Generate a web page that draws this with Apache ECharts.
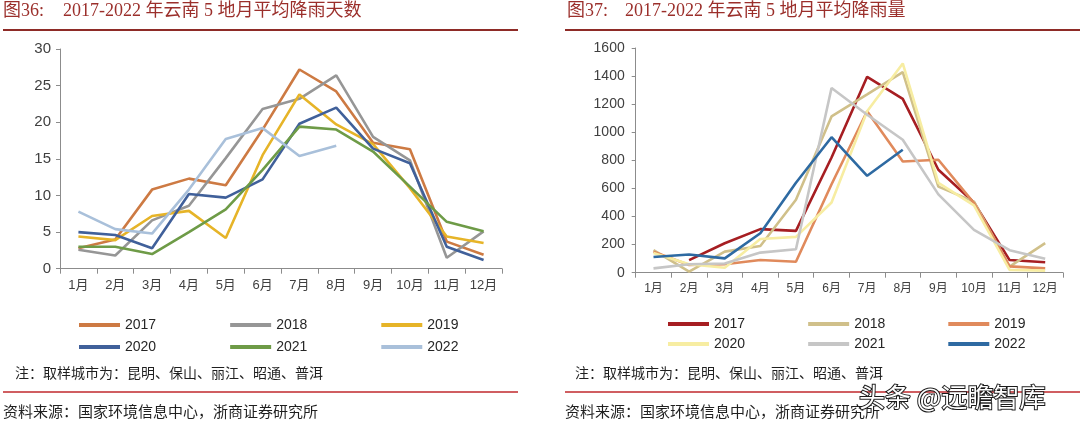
<!DOCTYPE html>
<html>
<head>
<meta charset="utf-8">
<script src="https://cdn.jsdelivr.net/npm/echarts@6/dist/echarts.min.js"></script>
<style>
html,body{margin:0;padding:0;background:#fff;}
#c1{position:absolute;left:0;top:0;width:540px;height:424px;}
#c2{position:absolute;left:540px;top:0;width:540px;height:424px;}
</style>
</head>
<body>
<div id="c1"></div>
<div id="c2"></div>
<script>
// ---- data ----
const months = ['1月','2月','3月','4月','5月','6月','7月','8月','9月','10月','11月','12月'];
const years = ['2017','2018','2019','2020','2021','2022'];

// Figure 36: average rainy days
const days2017 = [2.8, 4.0, 10.8, 12.3, 11.4, 19.0, 27.2, 24.2, 17.2, 16.3, 3.7, 1.9];
const days2018 = [2.6, 1.8, 6.6, 8.6, 15.1, 21.8, 23.2, 26.4, 18.0, 14.8, 1.5, 5.1];
const days2019 = [4.4, 3.9, 7.2, 7.9, 4.2, 15.5, 23.8, 19.7, 17.0, 11.0, 4.4, 3.5];
const days2020 = [5.0, 4.6, 2.8, 10.2, 9.7, 12.2, 19.8, 22.0, 16.4, 14.4, 3.0, 1.2];
const days2021 = [3.0, 3.0, 2.0, 5.0, 8.1, 13.5, 19.4, 19.0, 16.0, 11.2, 6.4, 5.1];
const days2022 = [7.8, 5.4, 4.8, 10.8, 17.7, 19.2, 15.4, 16.8, null, null, null, null];

// Figure 37: average rainfall
const rain2017 = [null, 90, 210, 310, 298, 820, 1395, 1238, 733, 500, 90, 74];
const rain2018 = [160, 8, 150, 190, 520, 1113, 1270, 1428, 613, 506, 43, 210];
const rain2019 = [150, 55, 60, 90, 78, 630, 1150, 792, 804, 495, 45, 31];
const rain2020 = [140, 60, 35, 240, 255, 500, 1150, 1490, 640, 480, 20, 15];
const rain2021 = [31, 60, 65, 143, 167, 1315, 1125, 947, 558, 305, 160, 100];
const rain2022 = [112, 130, 102, 281, 640, 965, 690, 875, null, null, null, null];

const daysTicks = {min: 0, max: 30, interval: 5};
const rainTicks = {min: 0, max: 1600, interval: 200};

const title36a = '图36:';
const title36b = '2017-2022 年云南 5 地月平均降雨天数';
const title37a = '图37:';
const title37b = '2017-2022 年云南 5 地月平均降雨量';
const noteText = '注：取样城市为：昆明、保山、丽江、昭通、普洱';
const sourceText = '资料来源：国家环境信息中心，浙商证券研究所';
const watermark = '头条 @远瞻智库';

// ---- styles ----
const colorsL = ['#CD7A43', '#969696', '#E6B428', '#40609A', '#6E9B47', '#A9C0DA'];
const colorsR = ['#A61E22', '#D0C08A', '#E08A5C', '#F7EDA2', '#C6C6C6', '#2E6AA2'];
const latin = "'Liberation Sans','Noto Sans CJK SC',sans-serif";
const serif = "'Liberation Serif','Noto Sans CJK SC',serif";
const cjk = "'Noto Sans CJK SC',sans-serif";

function buildOption(cfg) {
  const series = cfg.data.map((d, i) => ({
    name: years[i], type: 'line', data: d, symbol: 'none', connectNulls: false,
    lineStyle: {width: 2.6, color: cfg.colors[i]}, itemStyle: {color: cfg.colors[i]}
  }));
  const legendBase = {
    icon: 'rect', itemWidth: 41, itemHeight: 4, itemGap: cfg.legendGap,
    textStyle: {fontSize: 14, color: '#262626', fontFamily: latin}, orient: 'horizontal',
    selectedMode: false
  };
  return {
    animation: false,
    backgroundColor: '#fff',
    grid: cfg.grid,
    legend: [
      Object.assign({}, legendBase, {left: cfg.legendLeft, top: cfg.legendTop[0], data: years.slice(0, 3)}),
      Object.assign({}, legendBase, {left: cfg.legendLeft, top: cfg.legendTop[1], data: years.slice(3)})
    ],
    xAxis: {
      type: 'category', data: months, boundaryGap: true,
      axisLine: {lineStyle: {color: '#8c8c8c', width: 1}},
      axisTick: {show: true, length: 5, lineStyle: {color: '#8c8c8c'}},
      axisLabel: {fontSize: cfg.xFont, color: '#404040', fontFamily: latin, margin: 10, interval: 0, hideOverlap: false}
    },
    yAxis: {
      type: 'value', min: cfg.ticks.min, max: cfg.ticks.max, interval: cfg.ticks.interval,
      axisLine: {show: true, lineStyle: {color: '#8c8c8c', width: 1}},
      axisTick: {show: true, length: 4, lineStyle: {color: '#8c8c8c'}},
      splitLine: {show: false},
      axisLabel: {fontSize: cfg.yFont, color: '#404040', fontFamily: latin, margin: cfg.yMargin,
        formatter: function (v) { return String(v); }}
    },
    series: series,
    graphic: cfg.graphic
  };
}

function headerGraphics(xa, xb, ta, tb, ruleX1, ruleX2, noteX) {
  return [
    {type: 'text', left: xa, top: 2, style: {text: ta, font: '18px ' + serif, fill: '#9B2F2B'}},
    {type: 'text', left: xb, top: 2, style: {text: tb, font: '18px ' + serif, fill: '#9B2F2B'}},
    {type: 'line', shape: {x1: ruleX1, y1: 30, x2: ruleX2, y2: 30}, style: {stroke: '#8E2B27', lineWidth: 2}},
    {type: 'text', left: noteX, top: 366, style: {text: noteText, font: '14px ' + cjk, fill: '#1f1f1f'}},
    {type: 'line', shape: {x1: ruleX1, y1: 392, x2: ruleX2, y2: 392}, style: {stroke: '#C0282D', lineWidth: 1.5}},
    {type: 'text', left: ruleX1, top: 404, style: {text: sourceText, font: '15px ' + cjk, fill: '#1f1f1f'}}
  ];
}

const c1 = echarts.init(document.getElementById('c1'), null, {renderer: 'canvas'});
c1.setOption(buildOption({
  data: [days2017, days2018, days2019, days2020, days2021, days2022],
  colors: colorsL,
  ticks: daysTicks,
  grid: {left: 60, right: 38, top: 49, bottom: 155.3},
  yFont: 15, yMargin: 9, xFont: 13,
  legendLeft: 74, legendTop: [313, 335], legendGap: 74,
  graphic: headerGraphics(3, 63, title36a, title36b, 3, 518, 15)
}));

const c2 = echarts.init(document.getElementById('c2'), null, {renderer: 'canvas'});
const g2 = headerGraphics(27, 85, title37a, title37b, 25, 540, 35);
g2.push({type: 'text', left: 318, top: 383, z: 100,
  style: {text: watermark, font: '26px ' + cjk, fill: '#ffffff', stroke: '#1a1a1a', lineWidth: 2}});
c2.setOption(buildOption({
  data: [rain2017, rain2018, rain2019, rain2020, rain2021, rain2022],
  colors: colorsR,
  ticks: rainTicks,
  grid: {left: 95.7, right: 17, top: 48, bottom: 151.3},
  yFont: 14, yMargin: 11, xFont: 12,
  legendLeft: 123, legendTop: [312, 332], legendGap: 63,
  graphic: g2
}));
</script>
</body>
</html>
